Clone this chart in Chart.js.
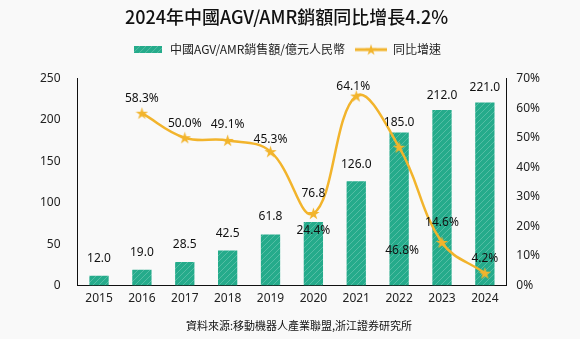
<!DOCTYPE html>
<html>
<head>
<meta charset="utf-8">
<script src="https://cdn.jsdelivr.net/npm/chart.js@4"></script>
<style>
  html, body { margin: 0; padding: 0; background: #f9f9f9; }
  #wrap { width: 580px; height: 339px; }
</style>
</head>
<body>
<div id="wrap"><canvas id="chart" width="580" height="339"></canvas></div>
<script>
// data
const years = ["2015", "2016", "2017", "2018", "2019", "2020", "2021", "2022", "2023", "2024"];
const sales = [12.0, 19.0, 28.5, 42.5, 61.8, 76.8, 126.0, 185.0, 212.0, 221.0];
const growth = [null, 58.3, 50.0, 49.1, 45.3, 24.4, 64.1, 46.8, 14.6, 4.2];
const salesTicks = [0, 50, 100, 150, 200, 250];
const growthTicks = [0, 10, 20, 30, 40, 50, 60, 70];

const TEAL = "#25ab8b";
const GOLD = "#f2b42c";
const FONT = '"Noto Sans", "Noto Sans CJK TC", sans-serif';

// label nudges (px, relative to the mark) to match the original placement
const barLabelDy = [-17, -17, -17, -17, -18, -28, -17, -10, -14, -15];
const lineLabelDy = [0, -15, -14, -16, -12, 17, -9, 103, -20, -15];
const lineLabelDx = [0, 0, 0, 0, 0, 0, -3, 3, 0, 0];

// hatched teal fill like the original bars
function makeHatch() {
  const c = document.createElement("canvas");
  c.width = 6; c.height = 6;
  const g = c.getContext("2d");
  g.fillStyle = TEAL;
  g.fillRect(0, 0, 6, 6);
  g.strokeStyle = "rgba(255,255,255,0.28)";
  g.lineWidth = 0.8;
  g.beginPath();
  g.moveTo(0, 6); g.lineTo(6, 0);
  g.moveTo(-1, 1); g.lineTo(1, -1);
  g.moveTo(5, 7); g.lineTo(7, 5);
  g.stroke();
  return g.createPattern(c, "repeat");
}

function drawStar(g, cx, cy, r) {
  g.beginPath();
  for (let i = 0; i < 10; i++) {
    const rad = i % 2 === 0 ? r : r * 0.38;
    const a = -Math.PI / 2 + i * Math.PI / 5;
    const x = cx + Math.cos(a) * rad, y = cy + Math.sin(a) * rad;
    if (i === 0) g.moveTo(x, y); else g.lineTo(x, y);
  }
  g.closePath();
  g.fill();
}

function makeStar(size) {
  const c = document.createElement("canvas");
  c.width = size; c.height = size;
  const g = c.getContext("2d");
  g.fillStyle = GOLD;
  drawStar(g, size / 2, size / 2 + 0.5, size / 2);
  return c;
}

function makeLineIcon() {
  const c = document.createElement("canvas");
  c.width = 32; c.height = 12;
  const g = c.getContext("2d");
  g.strokeStyle = GOLD;
  g.lineWidth = 3;
  g.beginPath(); g.moveTo(0, 6); g.lineTo(32, 6); g.stroke();
  g.fillStyle = GOLD;
  drawStar(g, 16, 6.5, 6);
  return c;
}

function makeBarIcon() {
  const c = document.createElement("canvas");
  c.width = 28; c.height = 7;
  const g = c.getContext("2d");
  g.fillStyle = makeHatch();
  g.fillRect(0, 0, 28, 7);
  return c;
}

const hatch = makeHatch();
const starImg = makeStar(13);
const legendIcons = [makeBarIcon(), makeLineIcon()];

// extra room under the legend, as in the original
const legendGap = {
  id: "legendGap",
  afterInit(chart) {
    const fit = chart.legend.fit;
    chart.legend.fit = function () {
      fit.call(this);
      this.height += 13;
    };
  }
};

// value labels and source note
const labelsPlugin = {
  id: "valueLabels",
  afterDatasetsDraw(chart) {
    const ctx = chart.ctx;
    ctx.save();
    ctx.font = "12px " + FONT;
    ctx.fillStyle = "#111";
    ctx.textAlign = "center";
    ctx.textBaseline = "middle";
    chart.getDatasetMeta(0).data.forEach((bar, i) => {
      ctx.fillText(sales[i].toFixed(1), bar.x, bar.y + barLabelDy[i]);
    });
    chart.getDatasetMeta(1).data.forEach((pt, i) => {
      if (growth[i] == null) return;
      ctx.fillText(growth[i].toFixed(1) + "%", pt.x + lineLabelDx[i], pt.y + lineLabelDy[i]);
    });
    ctx.font = '11px "Noto Sans CJK TC", sans-serif';
    ctx.textAlign = "left";
    ctx.fillText("資料來源:移動機器人產業聯盟,浙江證券研究所", 186, 326);
    ctx.restore();
  }
};

new Chart(document.getElementById("chart"), {
  data: {
    labels: years,
    datasets: [
      {
        type: "bar",
        label: "中國AGV/AMR銷售額/億元人民幣",
        data: sales,
        backgroundColor: hatch,
        yAxisID: "y",
        barPercentage: 0.45,
        categoryPercentage: 1,
        order: 2
      },
      {
        type: "line",
        label: "同比增速",
        data: growth,
        yAxisID: "y1",
        borderColor: GOLD,
        borderWidth: 2.5,
        tension: 0.4,
        pointStyle: starImg,
        pointRadius: 6,
        order: 1
      }
    ]
  },
  options: {
    responsive: false,
    animation: false,
    layout: { padding: { left: 23, right: 30, top: 4, bottom: 27 } },
    plugins: {
      title: {
        display: true,
        text: "2024年中國AGV/AMR銷額同比增長4.2%",
        color: "#111",
        font: { family: '"Noto Sans CJK TC", sans-serif', size: 18, weight: "500" },
        padding: { top: 2, bottom: 6 }
      },
      legend: {
        labels: {
          usePointStyle: true,
          pointStyleWidth: 32,
          boxHeight: 12,
          color: "#222",
          font: { family: '"Noto Sans CJK TC", sans-serif', size: 12 },
          padding: 10,
          generateLabels(chart) {
            return chart.data.datasets.map((ds, i) => ({
              text: ds.label,
              pointStyle: legendIcons[i],
              fontColor: "#222",
              datasetIndex: i,
              hidden: false
            }));
          }
        }
      },
      tooltip: { enabled: false }
    },
    scales: {
      x: {
        grid: { display: false, drawTicks: false },
        border: { color: "#111", width: 1 },
        ticks: { color: "#222", padding: 6, font: { family: FONT, size: 12 } }
      },
      y: {
        position: "left",
        min: 0,
        max: 250,
        afterBuildTicks(axis) { axis.ticks = salesTicks.map(v => ({ value: v })); },
        grid: { display: false, drawTicks: false },
        border: { color: "#111", width: 1 },
        ticks: { color: "#222", padding: 17, font: { family: FONT, size: 12 } }
      },
      y1: {
        position: "right",
        min: 0,
        max: 70,
        afterBuildTicks(axis) { axis.ticks = growthTicks.map(v => ({ value: v })); },
        grid: { display: false, drawTicks: false },
        border: { color: "#111", width: 1 },
        ticks: { color: "#222", padding: 10, font: { family: FONT, size: 12 }, callback: v => v + "%" }
      }
    }
  },
  plugins: [legendGap, labelsPlugin]
});
</script>
</body>
</html>
